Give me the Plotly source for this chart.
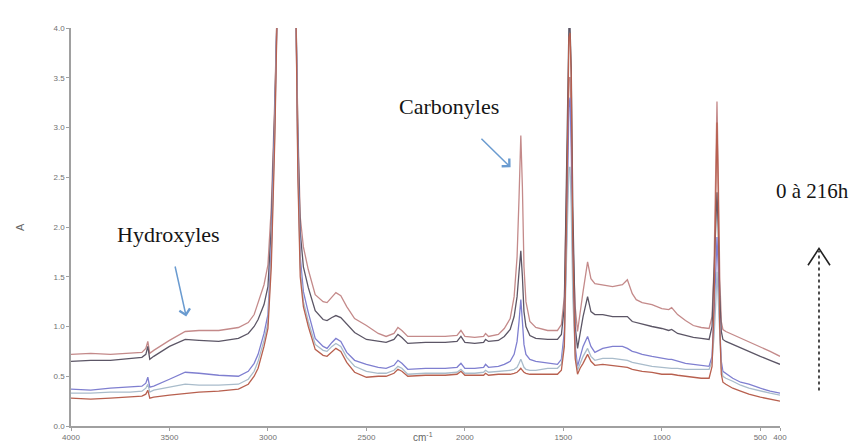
import plotly.graph_objects as go

# Wavenumber grid (cm-1) shared by every spectrum
wavenumber = [
    4000, 3900, 3800, 3700, 3640, 3620, 3610, 3600, 3580, 3500,
    3420, 3350, 3250, 3150, 3100, 3070, 3050, 3020, 3000, 2983,
    2965, 2950, 2870, 2858, 2848, 2836, 2820, 2795, 2760, 2720,
    2700, 2675, 2655, 2630, 2600, 2560, 2500, 2440, 2400, 2360,
    2340, 2320, 2290, 2200, 2100, 2040, 2020, 2000, 1950, 1905,
    1895, 1880, 1830, 1800, 1770, 1750, 1735, 1725, 1716, 1708,
    1700, 1690, 1670, 1640, 1580, 1530, 1510, 1495, 1482, 1472,
    1466, 1460, 1452, 1440, 1428, 1415, 1400, 1377, 1360, 1340,
    1300, 1250, 1200, 1175, 1150, 1130, 1100, 1050, 1000, 965,
    950, 920, 880, 840, 800, 760, 745, 735, 727, 720,
    714, 706, 698, 690, 675, 640, 600, 558, 500, 450, 400,
]

# Absorbance, from the most aged (top) down to the unaged (bottom) spectrum
spectrum_top = [
    0.72, 0.73, 0.72, 0.73, 0.74, 0.78, 0.85, 0.73, 0.76, 0.86,
    0.95, 0.96, 0.96, 0.99, 1.04, 1.12, 1.24, 1.42, 1.62, 2.20,
    3.30, 4.50, 4.50, 4.20, 3.00, 2.10, 1.80, 1.57, 1.32, 1.25,
    1.24, 1.30, 1.34, 1.31, 1.20, 1.08, 1.01, 0.93, 0.90, 0.93,
    0.99, 0.96, 0.90, 0.90, 0.90, 0.91, 0.96, 0.90, 0.89, 0.90,
    0.93, 0.90, 0.92, 0.98, 1.08, 1.30, 1.70, 2.30, 2.92, 2.40,
    1.60, 1.25, 1.05, 0.99, 0.96, 0.96, 1.02, 1.30, 2.40, 3.50,
    3.50, 3.00, 1.90, 1.20, 0.95, 1.15, 1.35, 1.65, 1.48, 1.43,
    1.42, 1.40, 1.42, 1.47, 1.33, 1.27, 1.24, 1.22, 1.18, 1.17,
    1.19, 1.12, 1.06, 1.01, 0.99, 0.98, 1.10, 1.60, 2.50, 3.26,
    2.60, 1.50, 1.05, 0.97, 0.95, 0.92, 0.88, 0.85, 0.80, 0.75, 0.70,
]
spectrum_2 = [
    0.65, 0.66, 0.66, 0.68, 0.69, 0.72, 0.80, 0.67, 0.70, 0.80,
    0.87, 0.86, 0.85, 0.88, 0.93, 1.00, 1.07, 1.22, 1.40, 2.00,
    3.20, 4.50, 4.50, 4.20, 2.90, 1.95, 1.60, 1.39, 1.16, 1.07,
    1.06, 1.09, 1.11, 1.09, 1.03, 0.94, 0.87, 0.85, 0.84, 0.87,
    0.92, 0.89, 0.83, 0.84, 0.84, 0.85, 0.90, 0.84, 0.83, 0.84,
    0.87, 0.85, 0.86, 0.90, 0.97, 1.10, 1.30, 1.55, 1.76, 1.50,
    1.15, 1.00, 0.91, 0.88, 0.87, 0.87, 0.92, 1.20, 2.60, 4.00,
    4.00, 3.60, 2.20, 1.00, 0.78, 0.95, 1.10, 1.30, 1.15, 1.12,
    1.12, 1.10, 1.10, 1.10, 1.05, 1.04, 1.02, 1.00, 0.98, 0.96,
    0.97, 0.93, 0.91, 0.89, 0.88, 0.87, 1.00, 1.50, 2.00, 2.35,
    2.00, 1.30, 0.95, 0.87, 0.85, 0.82, 0.78, 0.75, 0.70, 0.66, 0.62,
]
spectrum_3 = [
    0.37, 0.36, 0.38, 0.39, 0.40, 0.43, 0.49, 0.39, 0.40, 0.47,
    0.54, 0.53, 0.51, 0.50, 0.55, 0.63, 0.72, 0.93, 1.12, 1.80,
    3.10, 4.50, 4.50, 4.20, 2.70, 1.70, 1.35, 1.14, 0.88, 0.80,
    0.78, 0.84, 0.88, 0.85, 0.74, 0.66, 0.62, 0.59, 0.58, 0.61,
    0.66, 0.63, 0.57, 0.58, 0.58, 0.59, 0.63, 0.58, 0.58, 0.59,
    0.62, 0.59, 0.60, 0.62, 0.65, 0.72, 0.85, 1.05, 1.27, 1.05,
    0.82, 0.72, 0.67, 0.65, 0.63, 0.62, 0.67, 0.95, 2.00, 3.20,
    3.30, 2.80, 1.60, 0.80, 0.60, 0.70, 0.80, 0.90, 0.80, 0.74,
    0.78, 0.80, 0.80, 0.78, 0.75, 0.74, 0.72, 0.70, 0.68, 0.67,
    0.67, 0.65, 0.63, 0.62, 0.61, 0.60, 0.70, 1.10, 1.50, 1.90,
    1.60, 1.00, 0.65, 0.55, 0.53, 0.48, 0.44, 0.42, 0.38, 0.35, 0.33,
]
spectrum_4 = [
    0.33, 0.33, 0.34, 0.34, 0.35, 0.38, 0.42, 0.34, 0.36, 0.39,
    0.42, 0.41, 0.41, 0.42, 0.47, 0.55, 0.65, 0.86, 1.04, 1.70,
    3.00, 4.50, 4.50, 4.20, 2.60, 1.60, 1.25, 1.05, 0.82, 0.76,
    0.75, 0.80, 0.83, 0.80, 0.69, 0.60, 0.55, 0.53, 0.53, 0.56,
    0.60, 0.58, 0.52, 0.53, 0.53, 0.54, 0.57, 0.53, 0.53, 0.54,
    0.56, 0.54, 0.55, 0.55, 0.56, 0.57, 0.59, 0.63, 0.67, 0.63,
    0.59, 0.57, 0.56, 0.56, 0.58, 0.58, 0.62, 0.85, 1.80, 2.60,
    2.60, 2.20, 1.30, 0.72, 0.56, 0.62, 0.70, 0.78, 0.70, 0.66,
    0.68, 0.68, 0.67, 0.66, 0.64, 0.63, 0.62, 0.60, 0.59, 0.58,
    0.58, 0.58, 0.57, 0.57, 0.57, 0.57, 0.65, 0.90, 1.20, 1.55,
    1.30, 0.85, 0.58, 0.50, 0.48, 0.45, 0.41, 0.38, 0.35, 0.33, 0.31,
]
spectrum_0h = [
    0.28, 0.27, 0.28, 0.29, 0.30, 0.32, 0.36, 0.28, 0.29, 0.31,
    0.33, 0.34, 0.35, 0.37, 0.42, 0.50, 0.58, 0.80, 0.98, 1.60,
    2.90, 4.50, 4.50, 4.20, 2.50, 1.50, 1.20, 1.00, 0.77, 0.71,
    0.70, 0.75, 0.78, 0.75, 0.64, 0.54, 0.49, 0.50, 0.50, 0.53,
    0.57, 0.55, 0.50, 0.51, 0.51, 0.52, 0.55, 0.51, 0.51, 0.51,
    0.53, 0.51, 0.52, 0.52, 0.52, 0.53, 0.54, 0.56, 0.58, 0.56,
    0.54, 0.53, 0.52, 0.52, 0.52, 0.52, 0.56, 0.80, 2.30, 3.90,
    3.95, 3.50, 1.80, 0.68, 0.52, 0.58, 0.63, 0.72, 0.65, 0.61,
    0.62, 0.61, 0.60, 0.59, 0.57, 0.56, 0.55, 0.54, 0.52, 0.52,
    0.52, 0.51, 0.50, 0.49, 0.48, 0.48, 0.60, 1.20, 2.20, 3.05,
    2.40, 1.00, 0.52, 0.44, 0.42, 0.38, 0.35, 0.32, 0.29, 0.27, 0.25,
]

spectra = [spectrum_top, spectrum_2, spectrum_3, spectrum_4, spectrum_0h]
colors = ["#c48a8a", "#5c5666", "#7f7fd0", "#a9bccb", "#b8604f"]

x_ticks = [4000, 3500, 3000, 2500, 2000, 1500, 1000, 500, 400]
x_tick_text = ["4000", "3500", "3000", "2500", "2000", "1500", "1000", "500", "400"]
y_ticks = [0.0, 0.5, 1.0, 1.5, 2.0, 2.5, 3.0, 3.5, 4.0]

fig = go.Figure()
for values, color in zip(spectra, colors):
    fig.add_trace(
        go.Scatter(
            x=wavenumber, y=values, mode="lines",
            line=dict(color=color, width=1.3),
            showlegend=False, hoverinfo="skip",
        )
    )

serif = dict(family="Liberation Serif, Times New Roman, serif", size=22, color="#151515")
arrow_blue = "#6a9bd0"

# band labels, the arrow runs from the label down to the band
fig.add_annotation(
    x=3415, y=1.10, ax=3507, ay=1.92, axref="x", ayref="y", text="Hydroxyles",
    font=serif, showarrow=True, arrowhead=4, arrowsize=1.4, arrowwidth=1.5,
    arrowcolor=arrow_blue, startstandoff=18,
)
fig.add_annotation(
    x=1768, y=2.60, ax=2083, ay=3.21, axref="x", ayref="y", text="Carbonyles",
    font=serif, showarrow=True, arrowhead=4, arrowsize=1.4, arrowwidth=1.5,
    arrowcolor=arrow_blue, startstandoff=26,
)
fig.add_annotation(
    x=1.046, y=0.59, xref="paper", yref="paper", xanchor="center", text="0 à 216h",
    showarrow=False, font=dict(serif, size=21),
)

# dotted "ageing" arrow on the right
fig.add_shape(
    type="line", xref="paper", yref="paper", x0=1.055, x1=1.055, y0=0.089, y1=0.44,
    line=dict(color="#222222", width=1.6, dash="dot"),
)
fig.add_shape(
    type="path", xref="paper", yref="paper",
    path="M1.0395,0.404 L1.055,0.446 L1.0705,0.404",
    line=dict(color="#222222", width=1.6),
)

# axis titles
fig.add_annotation(
    x=-0.072, y=0.5, xref="paper", yref="paper", xanchor="center", text="A",
    textangle=-90, showarrow=False,
    font=dict(family="Arial, Liberation Sans", size=11, color="#666666"),
)
fig.add_annotation(
    x=0.497, y=-0.047, xref="paper", yref="paper", xanchor="center", yanchor="bottom",
    text="cm<sup>-1</sup>", showarrow=False,
    font=dict(family="Arial, Liberation Sans", size=10, color="#666666"),
)

axis_common = dict(
    showgrid=False, zeroline=False, showline=True, linecolor="#a0a0a0", linewidth=1.5,
    ticks="outside", ticklen=3, tickcolor="#a0a0a0",
    tickfont=dict(family="Arial, Liberation Sans", size=8, color="#707070"),
)
fig.update_xaxes(range=[4000, 400], tickvals=x_ticks, ticktext=x_tick_text, **axis_common)
fig.update_yaxes(range=[0, 4], tickvals=y_ticks, tickformat=".1f", **axis_common)

fig.update_layout(
    width=861, height=446,
    margin=dict(l=63, r=89, t=20, b=20),
    plot_bgcolor="white", paper_bgcolor="white",
)

fig.write_html("out.html")
